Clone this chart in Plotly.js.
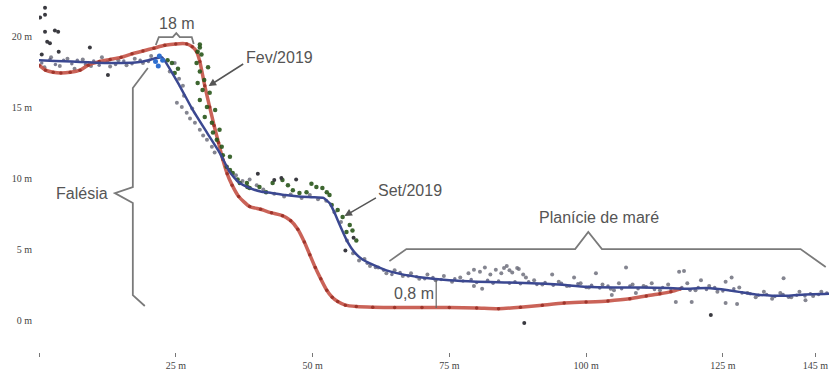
<!DOCTYPE html>
<html>
<head>
<meta charset="utf-8">
<script src="https://cdn.plot.ly/plotly-3.0.1.min.js"></script>
<style>
html,body{margin:0;padding:0;background:#fff;overflow:hidden;}
#chart{width:829px;height:372px;}
</style>
</head>
<body>
<div id="chart"></div>
<script>
// Red profile (Fev/2019 survey line)
const redX = [0, 1.2, 2.6, 4, 5.7, 7.5, 9, 11, 13, 15, 17, 19, 21, 23, 25, 27, 28, 28.8, 29.4, 30.3, 31.2, 32, 32.8, 33.6, 34.4, 35.3, 36.5, 38.5, 40.5, 42.5, 44.5, 46, 47.3, 48.5, 49.5, 50.5, 51.5, 52.6, 53.6, 54.6, 56, 58, 61, 65, 70, 75, 80, 84, 88, 92, 96, 100, 104, 108, 111, 113.5, 115.5, 117.3];
const redY = [17.95, 17.6, 17.45, 17.4, 17.45, 17.6, 17.95, 18.2, 18.35, 18.5, 18.75, 18.95, 19.15, 19.35, 19.45, 19.45, 19.25, 18.9, 18.2, 16.5, 15.0, 13.7, 12.5, 11.3, 10.3, 9.5, 8.7, 8.0, 7.8, 7.55, 7.35, 7.0, 6.4, 5.5, 4.6, 3.7, 2.9, 2.1, 1.6, 1.3, 1.05, 0.95, 0.9, 0.88, 0.88, 0.88, 0.85, 0.8, 0.9, 1.05, 1.2, 1.27, 1.35, 1.5, 1.7, 1.85, 2.0, 2.2];

// Blue profile (Set/2019 survey line)
const blueX = [0, 3, 6, 9, 12, 15, 18, 20, 21.5, 22.5, 25.7, 28.1, 30.7, 33.0, 34.9, 36.5, 38.5, 40.5, 42.5, 45, 47.5, 50, 52, 53.2, 54.2, 55.2, 56.4, 57.6, 59, 61, 63.5, 66, 70, 75, 80, 85, 90, 95, 100, 105, 110, 115, 118, 122, 126, 128.5, 131, 134, 137, 140, 144.4];
const blueY = [18.3, 18.25, 18.2, 18.15, 18.1, 18.1, 18.15, 18.3, 18.45, 18.5, 16.5, 14.8, 13.2, 11.8, 10.4, 9.7, 9.3, 9.05, 8.95, 8.8, 8.7, 8.65, 8.6, 8.2, 7.4, 6.5, 5.5, 4.8, 4.3, 3.9, 3.5, 3.25, 3.0, 2.8, 2.7, 2.65, 2.6, 2.5, 2.35, 2.3, 2.3, 2.25, 2.2, 2.25, 2.1, 1.95, 1.8, 1.72, 1.72, 1.8, 1.85];

// Dense points hugging the Set/2019 line
const hugX = [0.5, 2, 3, 4.5, 6, 7, 8.5, 10, 11, 12.5, 14, 15.5, 17, 18.5, 20, 60, 61.5, 63, 64.5, 66, 67.5, 69, 70.5, 72, 73.5, 76, 77.5, 79, 80, 82, 83, 84, 86, 87, 88, 89.5, 91, 92.5, 94, 95.5, 97, 98.5, 100, 101, 102.5, 104, 106.5, 108, 109.5, 111, 112.5, 114, 115.5, 117.5, 119, 120.5, 122, 123.5, 125, 127, 128.5, 130, 131.5, 133, 134.5, 136, 137, 138.5, 140, 141, 142.5, 144];
const hugY = [18.1, 18.35, 18.0, 18.3, 18.05, 18.3, 18.0, 18.25, 17.95, 18.2, 18.0, 18.25, 18.05, 18.3, 18.2, 4.0, 3.7, 3.5, 3.2, 3.35, 3.1, 3.05, 2.9, 3.0, 2.85, 2.9, 2.75, 2.85, 2.65, 2.8, 2.6, 2.75, 2.6, 2.7, 2.55, 2.7, 2.5, 2.65, 2.45, 2.6, 2.4, 2.55, 2.3, 2.45, 2.25, 2.4, 2.2, 2.4, 2.2, 2.35, 2.15, 2.3, 2.2, 2.3, 2.1, 2.3, 2.15, 2.3, 2.05, 2.2, 1.9, 1.85, 1.75, 1.8, 1.65, 1.8, 1.6, 1.75, 1.7, 1.85, 1.8, 1.9];

// Green point cloud
const greenX = [29.4, 29.4, 29, 29.7, 28.8, 29.4, 29, 29.9, 29.4, 30.7, 30.3, 31.6, 31.8, 33, 32.5, 33.4, 33.6, 34.9, 34.3, 35.4, 36.3, 38, 38.5, 34.9, 36.7, 38.1, 23.5, 24.3, 25.4, 24.8, 40.3, 42.7, 44.5, 46.4, 47.6, 48.9, 50.7, 51.8, 52.6, 53.1, 53.5, 54.6, 55.5, 56.8, 57.3, 56.2, 58, 30.9, 30.2, 31.2, 32.2, 41.5, 45.5, 49.8];
const greenY = [19.2, 19.4, 18.9, 18.7, 18.1, 17.5, 16.7, 16.2, 15.5, 15, 14.3, 13.9, 13.2, 13.4, 12.7, 12.2, 11.6, 11.5, 10.8, 10.35, 9.9, 9.65, 9.3, 10.56, 9.65, 9.37, 18.3, 18.1, 17.7, 17.4, 9.37, 9.65, 9.86, 9.15, 8.94, 9.0, 9.37, 9.3, 9.0, 8.8, 8.1, 7.75, 7.25, 6.7, 6.3, 6.2, 5.6, 17.8, 16.9, 16.0, 14.8, 9.0, 9.5, 9.6];

// Gray point cloud
const grayX = [1, 2.2, 3.8, 5.2, 6.5, 8, 9.5, 11.5, 13, 14.5, 16, 17.5, 19, 20.5, 23.9, 24.8, 25.2, 26.1, 27, 27.6, 28.5, 29.4, 30.7, 31.6, 32.1, 26.5, 28, 30, 25.6, 26.3, 36, 37.2, 38.5, 39.8, 41, 43, 44.8, 46, 48, 49.5, 51, 52.5, 54, 55.2, 56.3, 57.4, 58.5, 59.5, 60.5, 62, 63.5, 65, 66.5, 68, 69.5, 71, 72.5, 74, 75.5, 77, 78.5, 79.5, 80.6, 81.5, 82.5, 83.5, 84.5, 85.5, 86.5, 87.7, 88.5, 85, 86, 87.4, 89, 90.5, 92, 93.8, 95, 96.5, 97.8, 99, 100.5, 101.8, 103, 104.5, 105.1, 106, 107.3, 108.5, 109.1, 110.5, 112, 113.5, 115, 116.4, 117, 117.9, 118.5, 119.3, 120, 121, 122.5, 124, 125.5, 125.5, 126.6, 127.6, 128, 129.5, 131, 132.5, 134, 135.5, 136.1, 137.5, 139, 140.1, 141.5, 143, 104.7, 81, 79.5];
const grayY = [17.8, 18.5, 17.9, 18.4, 17.7, 18.35, 17.9, 18.5, 17.85, 18.3, 17.95, 18.4, 18.1, 18.6, 17.5, 18.1, 15.3, 15.0, 14.6, 14.2, 13.9, 13.4, 12.7, 12.2, 11.8, 15.8, 14.9, 13.0, 17.0, 16.5, 10.2, 9.8, 9.9, 9.5, 9.2, 8.9, 8.7, 8.85, 8.6, 8.8, 8.5, 8.4, 7.6, 6.9, 5.6, 4.7, 4.2, 4.3, 3.8, 3.7, 3.3, 3.5, 3.1, 3.3, 2.9, 3.2, 2.8, 3.1, 2.7, 3.0, 3.3, 3.55, 3.4, 3.7, 3.2, 3.55, 3.3, 3.8, 3.35, 3.6, 3.2, 3.66, 3.5, 3.66, 3.0, 2.8, 2.5, 3.2, 2.7, 2.4, 3.0, 2.6, 2.3, 3.3, 2.5, 2.2, 2.1, 2.6, 3.7, 2.5, 1.9, 2.4, 2.6, 2.1, 2.5, 1.27, 3.4, 3.45, 2.6, 1.27, 2.1, 2.8, 2.4, 2.0, 2.7, 1.2, 3.0, 1.13, 2.3, 1.9, 1.6, 2.0, 1.5, 1.9, 2.95, 1.6, 2.0, 1.4, 1.7, 2.0, 1.76, 2.2, 2.4];

// Dark outlier points
const darkX = [0.2, 1.1, 1.1, 1.1, 1.5, 2.9, 3.5, 2.0, 3.6, 0.5, 9.3, 12.6, 43, 44.3, 40, 47, 88.7, 122.8, 57.5, 56];
const darkY = [21.3, 22.0, 21.5, 20.3, 19.6, 20.4, 20.3, 19.5, 18.9, 18.7, 19.2, 17.25, 9.86, 10.0, 10.3, 9.9, -0.2, 0.35, 5.8, 4.9];

// Bright blue cluster at cliff top
const cyanX = [21.3, 22.0, 22.6, 21.8];
const cyanY = [18.2, 18.6, 18.3, 17.9];

const xTickVals = [0, 25, 50, 75, 100, 125, 141.9];
const xTickText = ['', '25 m', '50 m', '75 m', '100 m', '125 m', '145 m'];
const yTickVals = [0, 5, 10, 15, 20];
const yTickText = ['0 m', '5 m', '10 m', '15 m', '20 m'];

const mk = (c, s) => ({color: c, size: s, line: {width: 0}});
const traces = [
  {x: grayX, y: grayY, type: 'scatter', mode: 'markers', marker: mk('rgba(110,112,125,0.85)', 4), hoverinfo: 'skip'},
  {x: hugX, y: hugY, type: 'scatter', mode: 'markers', marker: mk('rgba(75,78,110,0.75)', 3.5), hoverinfo: 'skip'},
  {x: redX, y: redY, type: 'scatter', mode: 'lines+markers', line: {color: 'rgba(196,82,70,0.9)', width: 3.5, shape: 'spline', smoothing: 0.6}, marker: mk('rgba(150,45,35,0.85)', 3.5), hoverinfo: 'skip'},
  {x: greenX, y: greenY, type: 'scatter', mode: 'markers', marker: mk('rgba(40,85,25,0.9)', 4.5), hoverinfo: 'skip'},
  {x: blueX, y: blueY, type: 'scatter', mode: 'lines', line: {color: '#3b4891', width: 2.5, shape: 'spline', smoothing: 0.4}, hoverinfo: 'skip'},
  {x: cyanX, y: cyanY, type: 'scatter', mode: 'markers', marker: mk('#2f6fd0', 5), hoverinfo: 'skip'},
  {x: darkX, y: darkY, type: 'scatter', mode: 'markers', marker: mk('#3a3a40', 4), hoverinfo: 'skip'}
];

const gray = '#7a7a7a';
const tf = {family: 'Liberation Sans, Arial, sans-serif', size: 16, color: '#555'};
const layout = {
  width: 829, height: 372,
  margin: {l: 39, r: 0, t: 0, b: 20},
  paper_bgcolor: '#fff', plot_bgcolor: '#fff',
  showlegend: false,
  xaxis: {range: [0, 144.4], showgrid: false, zeroline: false, showline: false,
    tickmode: 'array', tickvals: xTickVals, ticktext: xTickText,
    ticks: 'outside', ticklen: 4, tickwidth: 1, tickcolor: '#777',
    ticklabeloverflow: 'allow',
    tickfont: {family: 'Liberation Serif, Times New Roman, serif', size: 10, color: '#444'}},
  yaxis: {range: [-2.25, 22.54], showgrid: false, zeroline: false, showline: false,
    tickmode: 'array', tickvals: yTickVals, ticktext: yTickText,
    ticks: 'outside', ticklen: 4, tickcolor: 'rgba(0,0,0,0)',
    tickfont: {family: 'Liberation Serif, Times New Roman, serif', size: 10, color: '#444'}},
  shapes: [
    {type: 'path', xref: 'x', yref: 'y', path: 'M21.35,19.37 L21.9,19.93 L24.45,19.93 L25.09,20.21 L25.73,19.93 L27.92,19.93 L28.28,19.44', line: {color: gray, width: 1.8}},
    {type: 'path', xref: 'x', yref: 'y', path: 'M19.9,17.75 L17.15,16.34 L17.15,9.37 L13.87,8.94 L17.15,8.24 L17.15,1.76 L19.34,0.99', line: {color: gray, width: 1.8}},
    {type: 'path', xref: 'x', yref: 'y', path: 'M64.05,4.15 L67.15,5.0 L98.0,5.0 L100.4,6.2 L102.9,5.0 L139.2,5.0 L143.8,3.73', line: {color: gray, width: 1.8}},
    {type: 'line', xref: 'x', yref: 'y', x0: 72.6, x1: 72.6, y0: 2.82, y1: 0.85, line: {color: '#666', width: 1.2}}
  ],
  annotations: [
    {x: 25.18, y: 20.92, xref: 'x', yref: 'y', text: '18 m', showarrow: false, font: tf},
    {x: 43.98, y: 18.52, xref: 'x', yref: 'y', text: 'Fev/2019', showarrow: false, font: tf},
    {x: 67.9, y: 9.15, xref: 'x', yref: 'y', text: 'Set/2019', showarrow: false, font: tf},
    {x: 102.4, y: 7.25, xref: 'x', yref: 'y', text: 'Planície de maré', showarrow: false, font: tf},
    {x: 68.6, y: 1.9, xref: 'x', yref: 'y', text: '0,8 m', showarrow: false, font: tf},
    {x: 12.96, y: 8.94, xref: 'x', yref: 'y', text: 'Falésia', xanchor: 'right', showarrow: false, font: tf},
    {x: 31.0, y: 16.48, xref: 'x', yref: 'y', ax: 37.6, ay: 18.1, axref: 'x', ayref: 'y', text: '', showarrow: true, arrowhead: 2, arrowsize: 1, arrowwidth: 1.5, arrowcolor: '#555'},
    {x: 55.84, y: 7.32, xref: 'x', yref: 'y', ax: 61.86, ay: 8.66, axref: 'x', ayref: 'y', text: '', showarrow: true, arrowhead: 2, arrowsize: 1, arrowwidth: 1.5, arrowcolor: '#555'}
  ]
};
Plotly.newPlot('chart', traces, layout, {displayModeBar: false, staticPlot: true});
</script>
</body>
</html>
